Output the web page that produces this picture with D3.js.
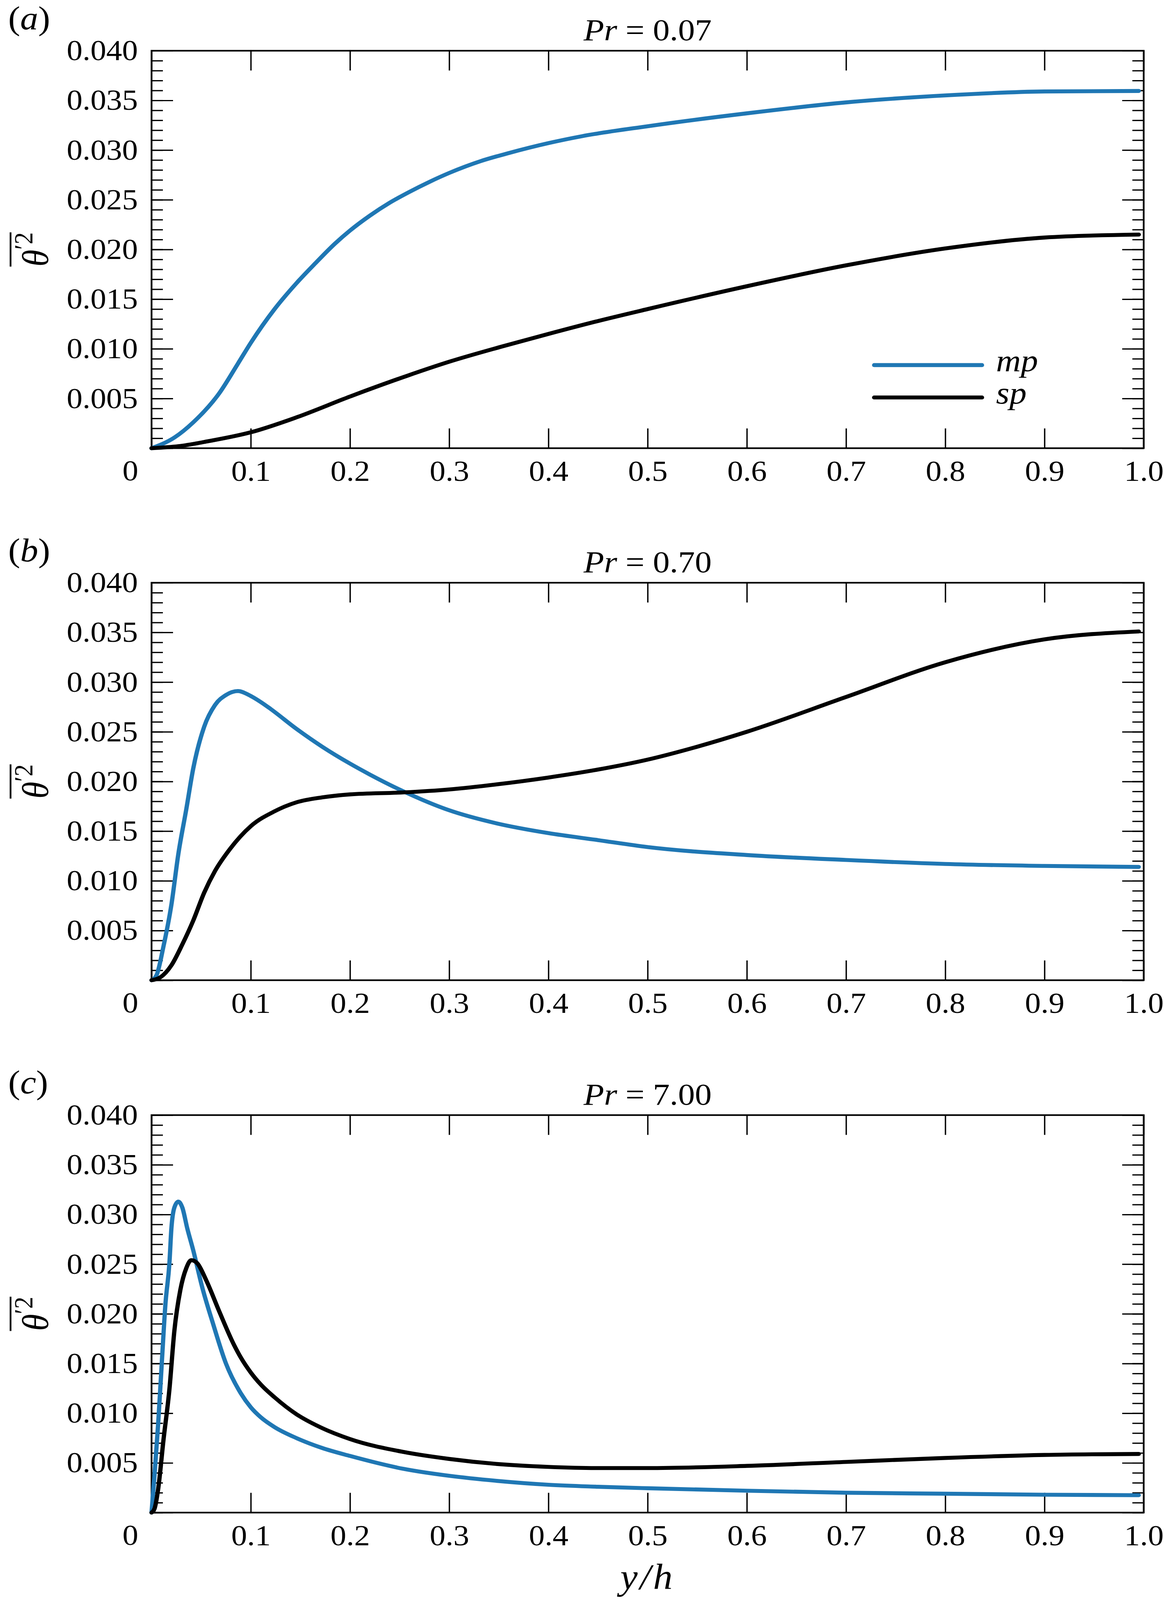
<!DOCTYPE html>
<html>
<head>
<meta charset="utf-8">
<script src="https://cdn.jsdelivr.net/npm/d3@7/dist/d3.min.js"></script>
<style>
  html, body { margin: 0; background: #fff; overflow: hidden; }
  svg { display: block; width: 100vw; height: 100vh; font-family: "Liberation Serif", "Times New Roman", serif; }
</style>
</head>
<body>
<svg id="chart"></svg>
<script>
// x ticks (y/h) and y ticks (theta'^2)
const xTicks = [0, 0.1, 0.2, 0.3, 0.4, 0.5, 0.6, 0.7, 0.8, 0.9, 1.0];
const yTicks = [0, 0.005, 0.010, 0.015, 0.020, 0.025, 0.030, 0.035, 0.040];
const yMinorTicks = d3.range(0, 41).map(i => i / 1000);

const panelLetters = ['a', 'b', 'c'];
const panelTitles = ['0.07', '0.70', '7.00'];
const seriesNames = ['mp', 'sp'];

// Pr = 0.07
const mpA = [[0, 0], [0.023, 0.00107], [0.042, 0.0026], [0.068, 0.0055], [0.087, 0.0085], [0.1, 0.0106],
  [0.124, 0.0140], [0.146, 0.0166], [0.165, 0.0186], [0.185, 0.0206], [0.2, 0.0219], [0.22, 0.0234],
  [0.24, 0.0247], [0.26, 0.0258], [0.28, 0.0268], [0.3, 0.0277], [0.332, 0.0289], [0.36, 0.0297],
  [0.4, 0.0307], [0.434, 0.0314], [0.5, 0.0324], [0.6, 0.0337], [0.7, 0.0348], [0.8, 0.0355],
  [0.9, 0.0359], [0.995, 0.03595]];
const spA = [[0, 0], [0.027, 0.0002], [0.057, 0.0007], [0.1, 0.0016], [0.146, 0.0031], [0.2, 0.0052],
  [0.258, 0.0073], [0.3, 0.0087], [0.352, 0.0102], [0.4, 0.0115], [0.45, 0.0128], [0.5, 0.0140],
  [0.6, 0.0163], [0.7, 0.0184], [0.8, 0.0201], [0.9, 0.0212], [0.995, 0.0215]];

// Pr = 0.70
const mpB = [[0, 0], [0.005, 0.0005], [0.012, 0.0034], [0.02, 0.0076], [0.027, 0.0127], [0.035, 0.0172],
  [0.042, 0.0213], [0.053, 0.0255], [0.064, 0.0277], [0.075, 0.0287], [0.087, 0.0291], [0.1, 0.0286],
  [0.11, 0.0280], [0.12, 0.0273], [0.146, 0.0253], [0.172, 0.0235], [0.2, 0.0218], [0.22, 0.0207],
  [0.254, 0.0190], [0.3, 0.0171], [0.347, 0.0158], [0.4, 0.0148], [0.45, 0.0141], [0.5, 0.0134],
  [0.6, 0.0126], [0.7, 0.0121], [0.8, 0.0117], [0.9, 0.0115], [0.995, 0.0114]];
const spB = [[0, 0], [0.009, 0.0003], [0.02, 0.0015], [0.031, 0.0036], [0.042, 0.0060], [0.053, 0.0088],
  [0.064, 0.0110], [0.079, 0.0132], [0.1, 0.0155], [0.124, 0.0170], [0.146, 0.0179], [0.172, 0.0184],
  [0.2, 0.0187], [0.254, 0.0189], [0.3, 0.0192], [0.347, 0.0197], [0.4, 0.0204], [0.45, 0.0212],
  [0.5, 0.0222], [0.55, 0.0235], [0.6, 0.0250], [0.7, 0.0285], [0.8, 0.0320], [0.9, 0.0343],
  [0.995, 0.0351]];

// Pr = 7.00
const mpC = [[0, 0], [0.003, 0.0038], [0.0067, 0.0090], [0.0104, 0.0152], [0.014, 0.0210], [0.018, 0.0251],
  [0.02, 0.0286], [0.023, 0.0307], [0.027, 0.0313], [0.031, 0.0307], [0.036, 0.0286], [0.042, 0.0264],
  [0.051, 0.0227], [0.062, 0.0190], [0.075, 0.0150], [0.09, 0.0120], [0.1, 0.0106], [0.11, 0.0096],
  [0.124, 0.0086], [0.146, 0.0075], [0.172, 0.0065], [0.2, 0.0057], [0.254, 0.0044], [0.3, 0.0037],
  [0.347, 0.0032], [0.4, 0.0028], [0.45, 0.0026], [0.5, 0.00245], [0.6, 0.0022], [0.7, 0.0020],
  [0.8, 0.0019], [0.9, 0.0018], [0.995, 0.00175]];
const spC = [[0, 0], [0.003, 0.0004], [0.0067, 0.0024], [0.012, 0.0073], [0.018, 0.0124], [0.023, 0.0183],
  [0.029, 0.0224], [0.035, 0.0246], [0.04, 0.0254], [0.046, 0.0251], [0.055, 0.0234], [0.068, 0.0203],
  [0.083, 0.0169], [0.09, 0.0156], [0.1, 0.0141], [0.11, 0.0129], [0.124, 0.0116], [0.146, 0.0099],
  [0.172, 0.0085], [0.2, 0.0074], [0.254, 0.0061], [0.3, 0.0054], [0.347, 0.0049], [0.4, 0.0046],
  [0.45, 0.00448], [0.5, 0.00448], [0.6, 0.0047], [0.7, 0.0051], [0.8, 0.0055], [0.9, 0.0058],
  [0.995, 0.0059]];

const panelSeries = [[mpA, spA], [mpB, spB], [mpC, spC]];
const colors = { mp: '#1f77b4', sp: '#000000' };

const W = 2980, H = 4448;
const margin = { left: 388, right: 52 };
const plotW = W - margin.left - margin.right;
const plotH = 1105;
const panelTops = [141, 1620, 3100];

const tickFont = 81;
const labelFont = 96;

// the drawing is laid out at 2980x4448 and fitted to the window
const svg = d3.select('#chart')
  .attr('viewBox', `0 0 ${W} ${H}`)
  .attr('preserveAspectRatio', 'none');
svg.append('rect').attr('width', W).attr('height', H).attr('fill', '#fff');

const x = d3.scaleLinear().domain([0, 1]).range([0, plotW]);
const y = d3.scaleLinear().domain([0, 0.04]).range([plotH, 0]);

const line = d3.line()
  .x(d => x(d[0]))
  .y(d => y(d[1]))
  .curve(d3.curveMonotoneX);

const styleAxis = (g, width) => {
  g.attr('font-family', null).attr('font-size', null);
  g.select('.domain').remove();
  g.selectAll('.tick line').attr('stroke', '#000').attr('stroke-width', width);
  g.selectAll('text').attr('fill', '#000').style('font-size', tickFont + 'px');
};

panelTops.forEach((top, i) => {
  const g = svg.append('g').attr('transform', `translate(${margin.left},${top})`);

  // minor y ticks left and right
  g.append('g')
    .call(d3.axisLeft(y).tickValues(yMinorTicks).tickSize(-29).tickSizeOuter(0).tickFormat(''))
    .call(a => styleAxis(a, 3.5));
  g.append('g')
    .attr('transform', `translate(${plotW},0)`)
    .call(d3.axisRight(y).tickValues(yMinorTicks).tickSize(-29).tickSizeOuter(0).tickFormat(''))
    .call(a => styleAxis(a, 3.5));

  // major y ticks
  g.append('g')
    .call(d3.axisLeft(y).tickValues(yTicks).tickSize(-55).tickSizeOuter(0).tickPadding(35)
      .tickFormat(d => d === 0 ? '' : d3.format('.3f')(d)))
    .call(a => styleAxis(a, 3.5));
  g.append('g')
    .attr('transform', `translate(${plotW},0)`)
    .call(d3.axisRight(y).tickValues(yTicks).tickSize(-55).tickSizeOuter(0).tickFormat(''))
    .call(a => styleAxis(a, 3.5));

  // x ticks bottom and top
  g.append('g')
    .attr('transform', `translate(0,${plotH})`)
    .call(d3.axisBottom(x).tickValues(xTicks).tickSize(-55).tickSizeOuter(0).tickPadding(33)
      .tickFormat(d => d === 0 ? '' : d3.format('.1f')(d)))
    .call(a => styleAxis(a, 3.5));
  g.append('g')
    .call(d3.axisTop(x).tickValues(xTicks).tickSize(-55).tickSizeOuter(0).tickFormat(''))
    .call(a => styleAxis(a, 3.5));

  // the shared "0" at the corner
  g.append('text')
    .attr('x', -34)
    .attr('y', plotH + 90)
    .attr('text-anchor', 'end')
    .style('font-size', tickFont + 'px')
    .text('0');

  // frame
  g.append('rect')
    .attr('width', plotW).attr('height', plotH)
    .attr('fill', 'none').attr('stroke', '#000').attr('stroke-width', 4.5);

  // curves
  panelSeries[i].forEach((data, k) => {
    g.append('path')
      .datum(data)
      .attr('d', line)
      .attr('fill', 'none')
      .attr('stroke', colors[seriesNames[k]])
      .attr('stroke-width', 11)
      .attr('stroke-linejoin', 'round')
      .attr('stroke-linecap', 'round');
  });

  // title
  const title = g.append('text')
    .attr('x', plotW / 2)
    .attr('y', -29)
    .attr('text-anchor', 'middle')
    .style('font-size', '86px');
  title.append('tspan').style('font-style', 'italic').text('Pr');
  title.append('tspan').text(' = ' + panelTitles[i]);

  // panel letter
  const lab = svg.append('text')
    .attr('x', 21)
    .attr('y', top - 60)
    .style('font-size', '92px');
  lab.append('tspan').text('(');
  lab.append('tspan').style('font-style', 'italic').text(panelLetters[i]);
  lab.append('tspan').text(')');

  // y label: overline theta prime squared
  const yl = svg.append('g')
    .attr('transform', `translate(123,${top + plotH / 2}) rotate(-90)`);
  const ylt = yl.append('text')
    .attr('text-anchor', 'middle')
    .style('font-size', labelFont + 'px');
  ylt.append('tspan').style('font-style', 'italic').text('θ');
  ylt.append('tspan').attr('dy', -40).style('font-size', '67px').text('′2');
  const bb = ylt.node().getBBox();
  yl.append('line')
    .attr('x1', bb.x).attr('x2', bb.x + bb.width)
    .attr('y1', -96).attr('y2', -96)
    .attr('stroke', '#000').attr('stroke-width', 4.5);

  // legend in the first panel
  if (i === 0) {
    const lg = g.append('g').attr('transform', `translate(1850,874)`);
    seriesNames.forEach((name, k) => {
      lg.append('line')
        .attr('x1', 0).attr('x2', 276)
        .attr('y1', k * 90).attr('y2', k * 90)
        .attr('stroke', colors[name]).attr('stroke-width', 11)
        .attr('stroke-linecap', 'round');
      lg.append('text')
        .attr('x', 312)
        .attr('y', k * 90 + 17)
        .style('font-size', '88px')
        .style('font-style', 'italic')
        .text(name);
    });
  }
});

// x label
svg.append('text')
  .attr('x', margin.left + plotW / 2)
  .attr('y', 4418)
  .attr('text-anchor', 'middle')
  .style('font-size', '100px')
  .style('font-style', 'italic')
  .style('letter-spacing', '6px')
  .text('y/h');
</script>
</body>
</html>
